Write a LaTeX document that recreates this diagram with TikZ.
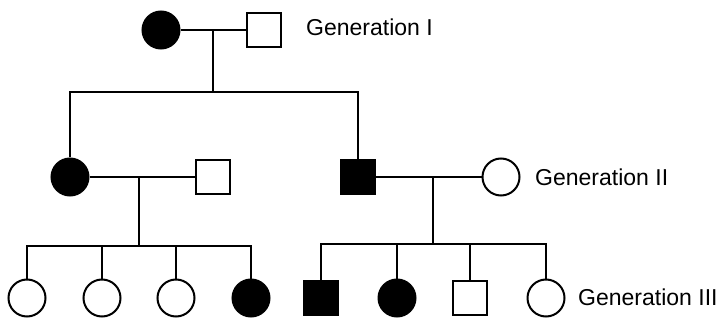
\documentclass[tikz,border=0pt]{standalone}
\usepackage{fontspec}
\setmainfont{Liberation Sans}
\begin{document}
\begin{tikzpicture}[x=1pt,y=-1pt,
  female/.style={circle,draw,line width=2pt,minimum size=37pt,inner sep=0pt},
  male/.style={rectangle,draw,line width=2pt,minimum size=34pt,inner sep=0pt},
  aff/.style={fill=black},
  unaff/.style={fill=white},
  link/.style={line width=1.6pt},
  gen/.style={anchor=west,inner sep=0pt,font=\fontsize{23}{27}\selectfont}]
\useasboundingbox (0,0) rectangle (725,323);
% Generation I
\node[female,aff] (f1) at (161,30) {};
\node[male,unaff] (m1) at (264,30) {};
\node[gen] (l1) at (306,27) {Generation I};
% Generation II
\node[female,aff] (c1) at (70,177) {};
\node[male,unaff] (s1) at (213,177) {};
\node[male,aff] (s2) at (358,177) {};
\node[female,unaff] (c2) at (501,177) {};
\node[gen] (l2) at (535,177) {Generation II};
% Generation III
\node[female,unaff] (g1) at (27,298) {};
\node[female,unaff] (g2) at (102,298) {};
\node[female,unaff] (g3) at (176,298) {};
\node[female,aff] (g4) at (251,298) {};
\node[male,aff] (g5) at (321,298) {};
\node[female,aff] (g6) at (397,298) {};
\node[male,unaff] (g7) at (470,298) {};
\node[female,unaff] (g8) at (546,298) {};
\node[gen] (l3) at (578,297) {Generation III};
% connectors
\coordinate (j1) at (213,30);
\coordinate (sib1) at (213,92);
\coordinate (j2) at (139,177);
\coordinate (sib2) at (139,246);
\coordinate (j3) at (433,177);
\coordinate (sib3) at (433,244);
\draw[link] (f1) -- (m1);
\draw[link] (j1) -- (sib1);
\draw[link] (c1) |- (sib1) -| (s2);
\draw[link] (c1) -- (s1);
\draw[link] (j2) -- (sib2);
\draw[link] (g1) |- (sib2) -| (g4);
\draw[link] (g2) -- (g2 |- sib2);
\draw[link] (g3) -- (g3 |- sib2);
\draw[link] (s2) -- (c2);
\draw[link] (j3) -- (sib3);
\draw[link] (g5) |- (sib3) -| (g8);
\draw[link] (g6) -- (g6 |- sib3);
\draw[link] (g7) -- (g7 |- sib3);
\end{tikzpicture}
\end{document}
